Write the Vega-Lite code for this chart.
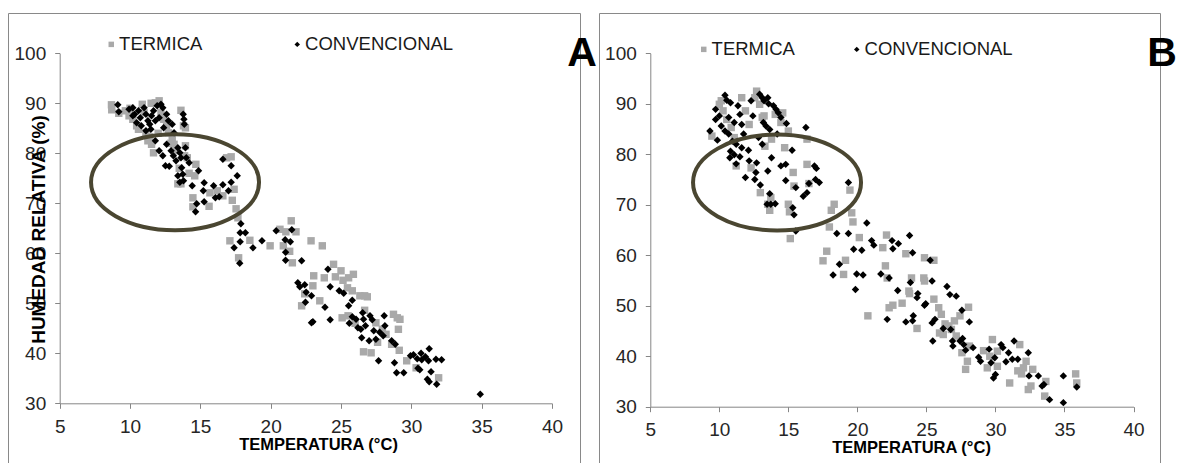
{
  "$schema": "https://vega.github.io/schema/vega-lite/v6.json",
  "padding": {"left": 7, "top": 12, "right": 0, "bottom": 0},
  "background": "white",
  "config": {
    "view": {"stroke": "#898989", "strokeWidth": 1},
    "axis": {"grid": false, "domainColor": "#868686", "tickColor": "#868686", "tickSize": 5, "labelFont": "Liberation Sans", "labelFontSize": 19, "labelColor": "#262626", "titleFont": "Liberation Sans", "titleFontWeight": "bold", "titleColor": "#000000", "labelOverlap": false, "labelFlush": false},
    "axisX": {"labelPadding": 9, "titleFontSize": 16.5, "titleBaseline": "middle", "titleAlign": "center"},
    "axisY": {"labelPadding": 9, "titleFontSize": 19, "titleAngle": -90, "titleBaseline": "middle", "titleAlign": "center"},
    "legend": {"labelFont": "Liberation Sans", "labelFontSize": 18.5, "labelColor": "#1a1a1a", "symbolSize": 30, "labelOffset": -1.4, "padding": 0, "rowPadding": 0, "symbolStrokeWidth": 0}
  },
  "datasets": {
    "pts": [
      {"panel":"A","serie":"TERMICA","temp":8.68,"hr":89.7},{"panel":"A","serie":"TERMICA","temp":8.7,"hr":88.7},{"panel":"A","serie":"TERMICA","temp":9.67,"hr":88.5},{"panel":"A","serie":"TERMICA","temp":9.93,"hr":87.5},{"panel":"A","serie":"TERMICA","temp":10.47,"hr":85.5},{"panel":"A","serie":"TERMICA","temp":10.87,"hr":89.8},{"panel":"A","serie":"TERMICA","temp":11.0,"hr":88.1},{"panel":"A","serie":"TERMICA","temp":11.13,"hr":84.1},{"panel":"A","serie":"TERMICA","temp":11.27,"hr":82.5},{"panel":"A","serie":"TERMICA","temp":11.53,"hr":81.8},{"panel":"A","serie":"TERMICA","temp":11.67,"hr":80.1},{"panel":"A","serie":"TERMICA","temp":11.8,"hr":90.1},{"panel":"A","serie":"TERMICA","temp":12.07,"hr":90.5},{"panel":"A","serie":"TERMICA","temp":12.2,"hr":88.1},{"panel":"A","serie":"TERMICA","temp":12.6,"hr":85.5},{"panel":"A","serie":"TERMICA","temp":12.73,"hr":84.1},{"panel":"A","serie":"TERMICA","temp":13.0,"hr":83.1},{"panel":"A","serie":"TERMICA","temp":13.13,"hr":81.8},{"panel":"A","serie":"TERMICA","temp":13.62,"hr":88.6},{"panel":"A","serie":"TERMICA","temp":13.8,"hr":85.5},{"panel":"A","serie":"TERMICA","temp":13.94,"hr":85.1},{"panel":"A","serie":"TERMICA","temp":13.94,"hr":81.5},{"panel":"A","serie":"TERMICA","temp":13.88,"hr":79.5},{"panel":"A","serie":"TERMICA","temp":14.07,"hr":79.1},{"panel":"A","serie":"TERMICA","temp":13.4,"hr":73.9},{"panel":"A","serie":"TERMICA","temp":13.62,"hr":73.9},{"panel":"A","serie":"TERMICA","temp":14.68,"hr":77.8},{"panel":"A","serie":"TERMICA","temp":14.6,"hr":75.5},{"panel":"A","serie":"TERMICA","temp":14.47,"hr":71.1},{"panel":"A","serie":"TERMICA","temp":14.47,"hr":69.3},{"panel":"A","serie":"TERMICA","temp":15.62,"hr":69.4},{"panel":"A","serie":"TERMICA","temp":15.68,"hr":72.1},{"panel":"A","serie":"TERMICA","temp":16.2,"hr":72.5},{"panel":"A","serie":"TERMICA","temp":16.6,"hr":71.5},{"panel":"A","serie":"TERMICA","temp":16.87,"hr":79.1},{"panel":"A","serie":"TERMICA","temp":17.19,"hr":79.3},{"panel":"A","serie":"TERMICA","temp":17.4,"hr":72.8},{"panel":"A","serie":"TERMICA","temp":17.27,"hr":70.6},{"panel":"A","serie":"TERMICA","temp":17.54,"hr":68.9},{"panel":"A","serie":"TERMICA","temp":17.67,"hr":67.1},{"panel":"A","serie":"TERMICA","temp":17.1,"hr":62.5},{"panel":"A","serie":"TERMICA","temp":17.72,"hr":59.1},{"panel":"A","serie":"TERMICA","temp":18.52,"hr":62.6},{"panel":"A","serie":"TERMICA","temp":19.96,"hr":61.5},{"panel":"A","serie":"TERMICA","temp":20.66,"hr":64.8},{"panel":"A","serie":"TERMICA","temp":21.08,"hr":64.3},{"panel":"A","serie":"TERMICA","temp":21.46,"hr":66.5},{"panel":"A","serie":"TERMICA","temp":21.8,"hr":64.3},{"panel":"A","serie":"TERMICA","temp":20.9,"hr":61.5},{"panel":"A","serie":"TERMICA","temp":21.35,"hr":60.4},{"panel":"A","serie":"TERMICA","temp":21.54,"hr":58.1},{"panel":"A","serie":"TERMICA","temp":22.87,"hr":62.5},{"panel":"A","serie":"TERMICA","temp":23.67,"hr":61.5},{"panel":"A","serie":"TERMICA","temp":22.2,"hr":49.5},{"panel":"A","serie":"TERMICA","temp":22.42,"hr":51.9},{"panel":"A","serie":"TERMICA","temp":23.0,"hr":53.5},{"panel":"A","serie":"TERMICA","temp":23.06,"hr":55.5},{"panel":"A","serie":"TERMICA","temp":23.49,"hr":50.5},{"panel":"A","serie":"TERMICA","temp":23.81,"hr":55.1},{"panel":"A","serie":"TERMICA","temp":24.47,"hr":57.8},{"panel":"A","serie":"TERMICA","temp":24.6,"hr":55.3},{"panel":"A","serie":"TERMICA","temp":25.0,"hr":56.5},{"panel":"A","serie":"TERMICA","temp":25.14,"hr":54.6},{"panel":"A","serie":"TERMICA","temp":25.08,"hr":47.1},{"panel":"A","serie":"TERMICA","temp":25.46,"hr":53.1},{"panel":"A","serie":"TERMICA","temp":25.54,"hr":55.1},{"panel":"A","serie":"TERMICA","temp":25.88,"hr":55.8},{"panel":"A","serie":"TERMICA","temp":25.8,"hr":52.5},{"panel":"A","serie":"TERMICA","temp":26.34,"hr":51.5},{"panel":"A","serie":"TERMICA","temp":26.68,"hr":51.5},{"panel":"A","serie":"TERMICA","temp":26.87,"hr":51.3},{"panel":"A","serie":"TERMICA","temp":26.68,"hr":48.6},{"panel":"A","serie":"TERMICA","temp":26.6,"hr":40.3},{"panel":"A","serie":"TERMICA","temp":27.14,"hr":40.1},{"panel":"A","serie":"TERMICA","temp":27.48,"hr":46.1},{"panel":"A","serie":"TERMICA","temp":27.94,"hr":44.8},{"panel":"A","serie":"TERMICA","temp":28.6,"hr":41.8},{"panel":"A","serie":"TERMICA","temp":28.73,"hr":47.8},{"panel":"A","serie":"TERMICA","temp":29.0,"hr":47.1},{"panel":"A","serie":"TERMICA","temp":29.19,"hr":46.8},{"panel":"A","serie":"TERMICA","temp":29.08,"hr":44.8},{"panel":"A","serie":"TERMICA","temp":29.14,"hr":40.6},{"panel":"A","serie":"TERMICA","temp":29.67,"hr":38.5},{"panel":"A","serie":"TERMICA","temp":30.34,"hr":37.1},{"panel":"A","serie":"TERMICA","temp":31.94,"hr":35.1},{"panel":"A","serie":"TERMICA","temp":28.2,"hr":43.8},{"panel":"A","serie":"TERMICA","temp":9.2,"hr":88.0},{"panel":"A","serie":"TERMICA","temp":10.2,"hr":86.8},{"panel":"A","serie":"TERMICA","temp":10.6,"hr":84.8},{"panel":"A","serie":"TERMICA","temp":11.4,"hr":83.3},{"panel":"A","serie":"TERMICA","temp":12.4,"hr":86.8},{"panel":"A","serie":"TERMICA","temp":12.9,"hr":82.0},{"panel":"A","serie":"TERMICA","temp":13.3,"hr":80.5},{"panel":"A","serie":"TERMICA","temp":10.0,"hr":89.0},{"panel":"A","serie":"TERMICA","temp":11.5,"hr":90.0},{"panel":"A","serie":"TERMICA","temp":12.0,"hr":84.0},{"panel":"A","serie":"TERMICA","temp":13.5,"hr":77.0},{"panel":"A","serie":"TERMICA","temp":14.2,"hr":76.0},{"panel":"A","serie":"TERMICA","temp":27.6,"hr":42.2},{"panel":"A","serie":"TERMICA","temp":26.0,"hr":46.0},{"panel":"A","serie":"TERMICA","temp":25.5,"hr":47.5},
      {"panel":"A","serie":"CONVENCIONAL","temp":9.13,"hr":89.7},{"panel":"A","serie":"CONVENCIONAL","temp":9.2,"hr":88.3},{"panel":"A","serie":"CONVENCIONAL","temp":9.93,"hr":88.8},{"panel":"A","serie":"CONVENCIONAL","temp":10.2,"hr":89.1},{"panel":"A","serie":"CONVENCIONAL","temp":10.33,"hr":87.8},{"panel":"A","serie":"CONVENCIONAL","temp":10.6,"hr":88.5},{"panel":"A","serie":"CONVENCIONAL","temp":10.73,"hr":87.1},{"panel":"A","serie":"CONVENCIONAL","temp":11.0,"hr":89.1},{"panel":"A","serie":"CONVENCIONAL","temp":11.13,"hr":87.8},{"panel":"A","serie":"CONVENCIONAL","temp":11.27,"hr":86.5},{"panel":"A","serie":"CONVENCIONAL","temp":11.4,"hr":85.8},{"panel":"A","serie":"CONVENCIONAL","temp":11.53,"hr":87.5},{"panel":"A","serie":"CONVENCIONAL","temp":11.67,"hr":88.5},{"panel":"A","serie":"CONVENCIONAL","temp":11.8,"hr":86.5},{"panel":"A","serie":"CONVENCIONAL","temp":11.93,"hr":89.5},{"panel":"A","serie":"CONVENCIONAL","temp":12.07,"hr":87.1},{"panel":"A","serie":"CONVENCIONAL","temp":12.2,"hr":89.8},{"panel":"A","serie":"CONVENCIONAL","temp":12.33,"hr":89.1},{"panel":"A","serie":"CONVENCIONAL","temp":12.39,"hr":85.1},{"panel":"A","serie":"CONVENCIONAL","temp":12.6,"hr":87.8},{"panel":"A","serie":"CONVENCIONAL","temp":12.73,"hr":86.5},{"panel":"A","serie":"CONVENCIONAL","temp":13.0,"hr":85.8},{"panel":"A","serie":"CONVENCIONAL","temp":13.13,"hr":84.1},{"panel":"A","serie":"CONVENCIONAL","temp":10.2,"hr":87.5},{"panel":"A","serie":"CONVENCIONAL","temp":10.47,"hr":86.1},{"panel":"A","serie":"CONVENCIONAL","temp":10.8,"hr":85.5},{"panel":"A","serie":"CONVENCIONAL","temp":11.13,"hr":84.5},{"panel":"A","serie":"CONVENCIONAL","temp":11.48,"hr":84.8},{"panel":"A","serie":"CONVENCIONAL","temp":11.8,"hr":82.5},{"panel":"A","serie":"CONVENCIONAL","temp":12.07,"hr":80.5},{"panel":"A","serie":"CONVENCIONAL","temp":12.33,"hr":79.5},{"panel":"A","serie":"CONVENCIONAL","temp":12.52,"hr":77.5},{"panel":"A","serie":"CONVENCIONAL","temp":12.79,"hr":77.4},{"panel":"A","serie":"CONVENCIONAL","temp":12.6,"hr":81.8},{"panel":"A","serie":"CONVENCIONAL","temp":12.92,"hr":80.5},{"panel":"A","serie":"CONVENCIONAL","temp":13.08,"hr":79.5},{"panel":"A","serie":"CONVENCIONAL","temp":13.27,"hr":78.5},{"panel":"A","serie":"CONVENCIONAL","temp":13.4,"hr":81.1},{"panel":"A","serie":"CONVENCIONAL","temp":13.54,"hr":80.1},{"panel":"A","serie":"CONVENCIONAL","temp":13.62,"hr":79.1},{"panel":"A","serie":"CONVENCIONAL","temp":13.67,"hr":77.1},{"panel":"A","serie":"CONVENCIONAL","temp":13.75,"hr":75.8},{"panel":"A","serie":"CONVENCIONAL","temp":13.8,"hr":74.5},{"panel":"A","serie":"CONVENCIONAL","temp":13.4,"hr":75.5},{"panel":"A","serie":"CONVENCIONAL","temp":13.54,"hr":74.2},{"panel":"A","serie":"CONVENCIONAL","temp":13.78,"hr":87.8},{"panel":"A","serie":"CONVENCIONAL","temp":13.83,"hr":86.8},{"panel":"A","serie":"CONVENCIONAL","temp":13.86,"hr":85.8},{"panel":"A","serie":"CONVENCIONAL","temp":13.94,"hr":81.1},{"panel":"A","serie":"CONVENCIONAL","temp":14.0,"hr":79.1},{"panel":"A","serie":"CONVENCIONAL","temp":14.2,"hr":78.1},{"panel":"A","serie":"CONVENCIONAL","temp":14.42,"hr":73.5},{"panel":"A","serie":"CONVENCIONAL","temp":14.87,"hr":76.5},{"panel":"A","serie":"CONVENCIONAL","temp":15.27,"hr":74.1},{"panel":"A","serie":"CONVENCIONAL","temp":15.21,"hr":72.5},{"panel":"A","serie":"CONVENCIONAL","temp":14.74,"hr":69.9},{"panel":"A","serie":"CONVENCIONAL","temp":14.66,"hr":68.3},{"panel":"A","serie":"CONVENCIONAL","temp":15.27,"hr":70.3},{"panel":"A","serie":"CONVENCIONAL","temp":15.94,"hr":73.5},{"panel":"A","serie":"CONVENCIONAL","temp":16.07,"hr":71.1},{"panel":"A","serie":"CONVENCIONAL","temp":16.34,"hr":71.3},{"panel":"A","serie":"CONVENCIONAL","temp":16.6,"hr":73.7},{"panel":"A","serie":"CONVENCIONAL","temp":17.0,"hr":72.5},{"panel":"A","serie":"CONVENCIONAL","temp":17.19,"hr":74.2},{"panel":"A","serie":"CONVENCIONAL","temp":17.62,"hr":75.5},{"panel":"A","serie":"CONVENCIONAL","temp":16.6,"hr":78.8},{"panel":"A","serie":"CONVENCIONAL","temp":17.19,"hr":77.5},{"panel":"A","serie":"CONVENCIONAL","temp":17.88,"hr":65.9},{"panel":"A","serie":"CONVENCIONAL","temp":17.83,"hr":64.1},{"panel":"A","serie":"CONVENCIONAL","temp":18.2,"hr":64.1},{"panel":"A","serie":"CONVENCIONAL","temp":17.83,"hr":62.3},{"panel":"A","serie":"CONVENCIONAL","temp":17.4,"hr":61.1},{"panel":"A","serie":"CONVENCIONAL","temp":18.74,"hr":61.1},{"panel":"A","serie":"CONVENCIONAL","temp":17.8,"hr":58.0},{"panel":"A","serie":"CONVENCIONAL","temp":19.38,"hr":62.5},{"panel":"A","serie":"CONVENCIONAL","temp":20.39,"hr":64.5},{"panel":"A","serie":"CONVENCIONAL","temp":21.03,"hr":62.7},{"panel":"A","serie":"CONVENCIONAL","temp":21.4,"hr":62.3},{"panel":"A","serie":"CONVENCIONAL","temp":21.5,"hr":64.7},{"panel":"A","serie":"CONVENCIONAL","temp":21.06,"hr":60.2},{"panel":"A","serie":"CONVENCIONAL","temp":21.06,"hr":58.6},{"panel":"A","serie":"CONVENCIONAL","temp":22.2,"hr":58.5},{"panel":"A","serie":"CONVENCIONAL","temp":21.93,"hr":54.1},{"panel":"A","serie":"CONVENCIONAL","temp":22.07,"hr":53.3},{"panel":"A","serie":"CONVENCIONAL","temp":22.42,"hr":53.7},{"panel":"A","serie":"CONVENCIONAL","temp":22.52,"hr":52.2},{"panel":"A","serie":"CONVENCIONAL","temp":22.47,"hr":50.2},{"panel":"A","serie":"CONVENCIONAL","temp":22.9,"hr":51.5},{"panel":"A","serie":"CONVENCIONAL","temp":22.9,"hr":46.1},{"panel":"A","serie":"CONVENCIONAL","temp":23.0,"hr":46.3},{"panel":"A","serie":"CONVENCIONAL","temp":23.86,"hr":49.2},{"panel":"A","serie":"CONVENCIONAL","temp":24.07,"hr":56.8},{"panel":"A","serie":"CONVENCIONAL","temp":24.23,"hr":53.3},{"panel":"A","serie":"CONVENCIONAL","temp":24.23,"hr":46.7},{"panel":"A","serie":"CONVENCIONAL","temp":24.87,"hr":52.5},{"panel":"A","serie":"CONVENCIONAL","temp":25.19,"hr":52.0},{"panel":"A","serie":"CONVENCIONAL","temp":25.54,"hr":49.5},{"panel":"A","serie":"CONVENCIONAL","temp":25.8,"hr":50.6},{"panel":"A","serie":"CONVENCIONAL","temp":25.59,"hr":46.0},{"panel":"A","serie":"CONVENCIONAL","temp":25.8,"hr":47.3},{"panel":"A","serie":"CONVENCIONAL","temp":26.07,"hr":46.8},{"panel":"A","serie":"CONVENCIONAL","temp":26.2,"hr":45.1},{"panel":"A","serie":"CONVENCIONAL","temp":26.41,"hr":44.8},{"panel":"A","serie":"CONVENCIONAL","temp":26.54,"hr":48.1},{"panel":"A","serie":"CONVENCIONAL","temp":26.47,"hr":43.1},{"panel":"A","serie":"CONVENCIONAL","temp":26.6,"hr":46.8},{"panel":"A","serie":"CONVENCIONAL","temp":26.74,"hr":45.5},{"panel":"A","serie":"CONVENCIONAL","temp":27.06,"hr":47.5},{"panel":"A","serie":"CONVENCIONAL","temp":27.22,"hr":46.7},{"panel":"A","serie":"CONVENCIONAL","temp":27.0,"hr":42.5},{"panel":"A","serie":"CONVENCIONAL","temp":27.33,"hr":44.5},{"panel":"A","serie":"CONVENCIONAL","temp":27.48,"hr":42.8},{"panel":"A","serie":"CONVENCIONAL","temp":27.67,"hr":38.5},{"panel":"A","serie":"CONVENCIONAL","temp":27.75,"hr":44.2},{"panel":"A","serie":"CONVENCIONAL","temp":28.0,"hr":43.5},{"panel":"A","serie":"CONVENCIONAL","temp":28.07,"hr":47.5},{"panel":"A","serie":"CONVENCIONAL","temp":28.12,"hr":45.5},{"panel":"A","serie":"CONVENCIONAL","temp":28.6,"hr":42.5},{"panel":"A","serie":"CONVENCIONAL","temp":28.86,"hr":41.8},{"panel":"A","serie":"CONVENCIONAL","temp":28.8,"hr":38.1},{"panel":"A","serie":"CONVENCIONAL","temp":28.95,"hr":36.1},{"panel":"A","serie":"CONVENCIONAL","temp":29.46,"hr":36.1},{"panel":"A","serie":"CONVENCIONAL","temp":29.94,"hr":39.5},{"panel":"A","serie":"CONVENCIONAL","temp":30.15,"hr":39.7},{"panel":"A","serie":"CONVENCIONAL","temp":30.42,"hr":38.9},{"panel":"A","serie":"CONVENCIONAL","temp":30.47,"hr":37.0},{"panel":"A","serie":"CONVENCIONAL","temp":30.6,"hr":36.7},{"panel":"A","serie":"CONVENCIONAL","temp":30.69,"hr":40.0},{"panel":"A","serie":"CONVENCIONAL","temp":30.74,"hr":38.7},{"panel":"A","serie":"CONVENCIONAL","temp":31.0,"hr":39.3},{"panel":"A","serie":"CONVENCIONAL","temp":31.22,"hr":38.5},{"panel":"A","serie":"CONVENCIONAL","temp":31.27,"hr":40.9},{"panel":"A","serie":"CONVENCIONAL","temp":31.14,"hr":34.8},{"panel":"A","serie":"CONVENCIONAL","temp":31.27,"hr":34.3},{"panel":"A","serie":"CONVENCIONAL","temp":31.4,"hr":36.3},{"panel":"A","serie":"CONVENCIONAL","temp":31.8,"hr":33.8},{"panel":"A","serie":"CONVENCIONAL","temp":31.75,"hr":38.8},{"panel":"A","serie":"CONVENCIONAL","temp":32.15,"hr":38.7},{"panel":"A","serie":"CONVENCIONAL","temp":34.9,"hr":31.8},
      {"panel":"B","serie":"TERMICA","temp":9.46,"hr":83.6},{"panel":"B","serie":"TERMICA","temp":10.0,"hr":89.9},{"panel":"B","serie":"TERMICA","temp":10.14,"hr":90.6},{"panel":"B","serie":"TERMICA","temp":10.27,"hr":88.6},{"panel":"B","serie":"TERMICA","temp":10.54,"hr":86.9},{"panel":"B","serie":"TERMICA","temp":10.86,"hr":85.3},{"panel":"B","serie":"TERMICA","temp":11.08,"hr":83.3},{"panel":"B","serie":"TERMICA","temp":11.22,"hr":77.7},{"panel":"B","serie":"TERMICA","temp":11.62,"hr":91.2},{"panel":"B","serie":"TERMICA","temp":11.89,"hr":88.6},{"panel":"B","serie":"TERMICA","temp":12.16,"hr":85.9},{"panel":"B","serie":"TERMICA","temp":12.3,"hr":77.3},{"panel":"B","serie":"TERMICA","temp":12.57,"hr":91.2},{"panel":"B","serie":"TERMICA","temp":12.7,"hr":92.5},{"panel":"B","serie":"TERMICA","temp":12.92,"hr":89.9},{"panel":"B","serie":"TERMICA","temp":13.11,"hr":87.3},{"panel":"B","serie":"TERMICA","temp":13.24,"hr":87.6},{"panel":"B","serie":"TERMICA","temp":12.97,"hr":72.4},{"panel":"B","serie":"TERMICA","temp":13.3,"hr":81.6},{"panel":"B","serie":"TERMICA","temp":13.51,"hr":70.1},{"panel":"B","serie":"TERMICA","temp":13.65,"hr":68.9},{"panel":"B","serie":"TERMICA","temp":13.73,"hr":71.4},{"panel":"B","serie":"TERMICA","temp":13.78,"hr":83.0},{"panel":"B","serie":"TERMICA","temp":14.05,"hr":87.9},{"panel":"B","serie":"TERMICA","temp":14.46,"hr":86.3},{"panel":"B","serie":"TERMICA","temp":14.59,"hr":88.2},{"panel":"B","serie":"TERMICA","temp":14.73,"hr":81.3},{"panel":"B","serie":"TERMICA","temp":15.0,"hr":84.6},{"panel":"B","serie":"TERMICA","temp":15.0,"hr":70.1},{"panel":"B","serie":"TERMICA","temp":15.08,"hr":68.6},{"panel":"B","serie":"TERMICA","temp":15.14,"hr":63.3},{"panel":"B","serie":"TERMICA","temp":15.35,"hr":76.4},{"panel":"B","serie":"TERMICA","temp":15.41,"hr":73.7},{"panel":"B","serie":"TERMICA","temp":16.35,"hr":78.0},{"panel":"B","serie":"TERMICA","temp":16.49,"hr":74.2},{"panel":"B","serie":"TERMICA","temp":16.35,"hr":83.0},{"panel":"B","serie":"TERMICA","temp":17.51,"hr":58.9},{"panel":"B","serie":"TERMICA","temp":17.78,"hr":60.8},{"panel":"B","serie":"TERMICA","temp":17.97,"hr":65.6},{"panel":"B","serie":"TERMICA","temp":18.11,"hr":68.9},{"panel":"B","serie":"TERMICA","temp":18.32,"hr":70.1},{"panel":"B","serie":"TERMICA","temp":19.0,"hr":56.2},{"panel":"B","serie":"TERMICA","temp":19.14,"hr":59.0},{"panel":"B","serie":"TERMICA","temp":19.59,"hr":68.4},{"panel":"B","serie":"TERMICA","temp":19.68,"hr":66.6},{"panel":"B","serie":"TERMICA","temp":19.46,"hr":72.9},{"panel":"B","serie":"TERMICA","temp":20.14,"hr":63.5},{"panel":"B","serie":"TERMICA","temp":20.76,"hr":48.0},{"panel":"B","serie":"TERMICA","temp":21.84,"hr":61.5},{"panel":"B","serie":"TERMICA","temp":22.03,"hr":57.9},{"panel":"B","serie":"TERMICA","temp":22.16,"hr":55.5},{"panel":"B","serie":"TERMICA","temp":22.11,"hr":64.0},{"panel":"B","serie":"TERMICA","temp":22.3,"hr":49.6},{"panel":"B","serie":"TERMICA","temp":22.57,"hr":50.1},{"panel":"B","serie":"TERMICA","temp":23.24,"hr":50.5},{"panel":"B","serie":"TERMICA","temp":23.51,"hr":60.3},{"panel":"B","serie":"TERMICA","temp":23.73,"hr":52.9},{"panel":"B","serie":"TERMICA","temp":23.78,"hr":52.4},{"panel":"B","serie":"TERMICA","temp":23.92,"hr":55.5},{"panel":"B","serie":"TERMICA","temp":24.32,"hr":45.5},{"panel":"B","serie":"TERMICA","temp":24.86,"hr":59.5},{"panel":"B","serie":"TERMICA","temp":24.81,"hr":55.5},{"panel":"B","serie":"TERMICA","temp":24.86,"hr":54.9},{"panel":"B","serie":"TERMICA","temp":25.54,"hr":59.0},{"panel":"B","serie":"TERMICA","temp":25.54,"hr":51.3},{"panel":"B","serie":"TERMICA","temp":25.89,"hr":49.6},{"panel":"B","serie":"TERMICA","temp":26.08,"hr":48.3},{"panel":"B","serie":"TERMICA","temp":25.95,"hr":44.6},{"panel":"B","serie":"TERMICA","temp":26.22,"hr":44.3},{"panel":"B","serie":"TERMICA","temp":26.35,"hr":46.4},{"panel":"B","serie":"TERMICA","temp":26.62,"hr":46.0},{"panel":"B","serie":"TERMICA","temp":26.81,"hr":45.3},{"panel":"B","serie":"TERMICA","temp":27.03,"hr":47.0},{"panel":"B","serie":"TERMICA","temp":27.16,"hr":44.0},{"panel":"B","serie":"TERMICA","temp":27.43,"hr":48.0},{"panel":"B","serie":"TERMICA","temp":27.57,"hr":40.7},{"panel":"B","serie":"TERMICA","temp":27.84,"hr":37.4},{"panel":"B","serie":"TERMICA","temp":27.97,"hr":39.0},{"panel":"B","serie":"TERMICA","temp":28.05,"hr":49.7},{"panel":"B","serie":"TERMICA","temp":28.11,"hr":42.0},{"panel":"B","serie":"TERMICA","temp":29.14,"hr":41.1},{"panel":"B","serie":"TERMICA","temp":29.41,"hr":37.7},{"panel":"B","serie":"TERMICA","temp":29.59,"hr":40.0},{"panel":"B","serie":"TERMICA","temp":29.78,"hr":43.3},{"panel":"B","serie":"TERMICA","temp":30.14,"hr":38.0},{"panel":"B","serie":"TERMICA","temp":30.14,"hr":41.0},{"panel":"B","serie":"TERMICA","temp":31.03,"hr":34.7},{"panel":"B","serie":"TERMICA","temp":31.76,"hr":42.3},{"panel":"B","serie":"TERMICA","temp":31.62,"hr":37.1},{"panel":"B","serie":"TERMICA","temp":31.89,"hr":36.5},{"panel":"B","serie":"TERMICA","temp":32.03,"hr":37.7},{"panel":"B","serie":"TERMICA","temp":32.22,"hr":39.0},{"panel":"B","serie":"TERMICA","temp":32.38,"hr":33.4},{"panel":"B","serie":"TERMICA","temp":32.57,"hr":34.1},{"panel":"B","serie":"TERMICA","temp":32.7,"hr":37.4},{"panel":"B","serie":"TERMICA","temp":33.57,"hr":32.1},{"panel":"B","serie":"TERMICA","temp":33.65,"hr":35.0},{"panel":"B","serie":"TERMICA","temp":35.81,"hr":36.5},{"panel":"B","serie":"TERMICA","temp":35.89,"hr":34.7},
      {"panel":"B","serie":"CONVENCIONAL","temp":9.32,"hr":84.6},{"panel":"B","serie":"CONVENCIONAL","temp":9.86,"hr":82.8},{"panel":"B","serie":"CONVENCIONAL","temp":9.73,"hr":88.9},{"panel":"B","serie":"CONVENCIONAL","temp":10.41,"hr":91.7},{"panel":"B","serie":"CONVENCIONAL","temp":10.54,"hr":90.7},{"panel":"B","serie":"CONVENCIONAL","temp":10.81,"hr":90.2},{"panel":"B","serie":"CONVENCIONAL","temp":10.0,"hr":87.6},{"panel":"B","serie":"CONVENCIONAL","temp":9.73,"hr":86.9},{"panel":"B","serie":"CONVENCIONAL","temp":10.14,"hr":85.6},{"panel":"B","serie":"CONVENCIONAL","temp":10.41,"hr":84.6},{"panel":"B","serie":"CONVENCIONAL","temp":10.68,"hr":84.0},{"panel":"B","serie":"CONVENCIONAL","temp":10.68,"hr":87.3},{"panel":"B","serie":"CONVENCIONAL","temp":11.08,"hr":86.3},{"panel":"B","serie":"CONVENCIONAL","temp":10.95,"hr":82.6},{"panel":"B","serie":"CONVENCIONAL","temp":11.22,"hr":82.0},{"panel":"B","serie":"CONVENCIONAL","temp":11.35,"hr":89.6},{"panel":"B","serie":"CONVENCIONAL","temp":11.49,"hr":87.9},{"panel":"B","serie":"CONVENCIONAL","temp":11.62,"hr":85.9},{"panel":"B","serie":"CONVENCIONAL","temp":11.76,"hr":84.0},{"panel":"B","serie":"CONVENCIONAL","temp":10.81,"hr":80.6},{"panel":"B","serie":"CONVENCIONAL","temp":10.76,"hr":79.3},{"panel":"B","serie":"CONVENCIONAL","temp":11.08,"hr":79.9},{"panel":"B","serie":"CONVENCIONAL","temp":11.22,"hr":78.1},{"panel":"B","serie":"CONVENCIONAL","temp":11.49,"hr":79.5},{"panel":"B","serie":"CONVENCIONAL","temp":11.62,"hr":81.3},{"panel":"B","serie":"CONVENCIONAL","temp":11.89,"hr":75.4},{"panel":"B","serie":"CONVENCIONAL","temp":12.11,"hr":80.8},{"panel":"B","serie":"CONVENCIONAL","temp":12.16,"hr":78.7},{"panel":"B","serie":"CONVENCIONAL","temp":12.3,"hr":90.6},{"panel":"B","serie":"CONVENCIONAL","temp":12.43,"hr":87.6},{"panel":"B","serie":"CONVENCIONAL","temp":12.57,"hr":75.0},{"panel":"B","serie":"CONVENCIONAL","temp":12.65,"hr":76.4},{"panel":"B","serie":"CONVENCIONAL","temp":12.7,"hr":78.3},{"panel":"B","serie":"CONVENCIONAL","temp":12.84,"hr":83.3},{"panel":"B","serie":"CONVENCIONAL","temp":12.92,"hr":91.9},{"panel":"B","serie":"CONVENCIONAL","temp":13.11,"hr":91.2},{"panel":"B","serie":"CONVENCIONAL","temp":13.24,"hr":90.6},{"panel":"B","serie":"CONVENCIONAL","temp":12.97,"hr":73.9},{"panel":"B","serie":"CONVENCIONAL","temp":13.11,"hr":82.0},{"panel":"B","serie":"CONVENCIONAL","temp":13.19,"hr":86.3},{"panel":"B","serie":"CONVENCIONAL","temp":13.38,"hr":85.6},{"panel":"B","serie":"CONVENCIONAL","temp":13.51,"hr":91.2},{"panel":"B","serie":"CONVENCIONAL","temp":13.65,"hr":84.9},{"panel":"B","serie":"CONVENCIONAL","temp":13.57,"hr":90.0},{"panel":"B","serie":"CONVENCIONAL","temp":13.51,"hr":76.7},{"panel":"B","serie":"CONVENCIONAL","temp":13.65,"hr":72.2},{"panel":"B","serie":"CONVENCIONAL","temp":13.78,"hr":79.3},{"panel":"B","serie":"CONVENCIONAL","temp":13.46,"hr":70.1},{"panel":"B","serie":"CONVENCIONAL","temp":13.73,"hr":70.1},{"panel":"B","serie":"CONVENCIONAL","temp":14.05,"hr":70.2},{"panel":"B","serie":"CONVENCIONAL","temp":13.92,"hr":89.6},{"panel":"B","serie":"CONVENCIONAL","temp":14.11,"hr":88.9},{"panel":"B","serie":"CONVENCIONAL","temp":14.27,"hr":88.2},{"panel":"B","serie":"CONVENCIONAL","temp":14.46,"hr":87.3},{"panel":"B","serie":"CONVENCIONAL","temp":14.19,"hr":84.0},{"panel":"B","serie":"CONVENCIONAL","temp":14.46,"hr":77.7},{"panel":"B","serie":"CONVENCIONAL","temp":14.81,"hr":78.0},{"panel":"B","serie":"CONVENCIONAL","temp":14.86,"hr":86.1},{"panel":"B","serie":"CONVENCIONAL","temp":14.81,"hr":74.8},{"panel":"B","serie":"CONVENCIONAL","temp":15.27,"hr":80.8},{"panel":"B","serie":"CONVENCIONAL","temp":15.32,"hr":69.4},{"panel":"B","serie":"CONVENCIONAL","temp":15.41,"hr":68.0},{"panel":"B","serie":"CONVENCIONAL","temp":15.54,"hr":73.4},{"panel":"B","serie":"CONVENCIONAL","temp":15.54,"hr":64.8},{"panel":"B","serie":"CONVENCIONAL","temp":16.08,"hr":71.7},{"panel":"B","serie":"CONVENCIONAL","temp":16.35,"hr":72.4},{"panel":"B","serie":"CONVENCIONAL","temp":16.49,"hr":74.2},{"panel":"B","serie":"CONVENCIONAL","temp":16.27,"hr":85.3},{"panel":"B","serie":"CONVENCIONAL","temp":16.89,"hr":77.7},{"panel":"B","serie":"CONVENCIONAL","temp":17.03,"hr":77.2},{"panel":"B","serie":"CONVENCIONAL","temp":16.97,"hr":75.0},{"panel":"B","serie":"CONVENCIONAL","temp":17.24,"hr":74.4},{"panel":"B","serie":"CONVENCIONAL","temp":19.35,"hr":74.4},{"panel":"B","serie":"CONVENCIONAL","temp":18.51,"hr":64.3},{"panel":"B","serie":"CONVENCIONAL","temp":19.35,"hr":64.3},{"panel":"B","serie":"CONVENCIONAL","temp":18.24,"hr":56.1},{"panel":"B","serie":"CONVENCIONAL","temp":18.7,"hr":58.2},{"panel":"B","serie":"CONVENCIONAL","temp":19.73,"hr":61.2},{"panel":"B","serie":"CONVENCIONAL","temp":19.86,"hr":53.2},{"panel":"B","serie":"CONVENCIONAL","temp":19.95,"hr":56.3},{"panel":"B","serie":"CONVENCIONAL","temp":20.32,"hr":61.0},{"panel":"B","serie":"CONVENCIONAL","temp":20.41,"hr":56.1},{"panel":"B","serie":"CONVENCIONAL","temp":20.68,"hr":66.4},{"panel":"B","serie":"CONVENCIONAL","temp":21.03,"hr":62.9},{"panel":"B","serie":"CONVENCIONAL","temp":21.19,"hr":62.0},{"panel":"B","serie":"CONVENCIONAL","temp":21.7,"hr":56.3},{"panel":"B","serie":"CONVENCIONAL","temp":22.16,"hr":47.3},{"panel":"B","serie":"CONVENCIONAL","temp":22.3,"hr":55.5},{"panel":"B","serie":"CONVENCIONAL","temp":22.51,"hr":62.9},{"panel":"B","serie":"CONVENCIONAL","temp":22.57,"hr":61.3},{"panel":"B","serie":"CONVENCIONAL","temp":22.97,"hr":62.3},{"panel":"B","serie":"CONVENCIONAL","temp":22.92,"hr":53.0},{"panel":"B","serie":"CONVENCIONAL","temp":23.51,"hr":46.8},{"panel":"B","serie":"CONVENCIONAL","temp":23.78,"hr":63.9},{"panel":"B","serie":"CONVENCIONAL","temp":23.84,"hr":54.6},{"panel":"B","serie":"CONVENCIONAL","temp":24.0,"hr":60.5},{"panel":"B","serie":"CONVENCIONAL","temp":24.05,"hr":48.0},{"panel":"B","serie":"CONVENCIONAL","temp":24.0,"hr":47.0},{"panel":"B","serie":"CONVENCIONAL","temp":24.32,"hr":51.6},{"panel":"B","serie":"CONVENCIONAL","temp":24.38,"hr":52.4},{"panel":"B","serie":"CONVENCIONAL","temp":24.86,"hr":50.1},{"panel":"B","serie":"CONVENCIONAL","temp":24.95,"hr":50.4},{"panel":"B","serie":"CONVENCIONAL","temp":25.27,"hr":59.0},{"panel":"B","serie":"CONVENCIONAL","temp":25.41,"hr":54.9},{"panel":"B","serie":"CONVENCIONAL","temp":25.41,"hr":46.6},{"panel":"B","serie":"CONVENCIONAL","temp":25.46,"hr":43.0},{"panel":"B","serie":"CONVENCIONAL","temp":25.62,"hr":47.3},{"panel":"B","serie":"CONVENCIONAL","temp":26.22,"hr":45.5},{"panel":"B","serie":"CONVENCIONAL","temp":26.49,"hr":53.8},{"panel":"B","serie":"CONVENCIONAL","temp":26.7,"hr":52.2},{"panel":"B","serie":"CONVENCIONAL","temp":26.76,"hr":45.3},{"panel":"B","serie":"CONVENCIONAL","temp":26.89,"hr":43.0},{"panel":"B","serie":"CONVENCIONAL","temp":26.92,"hr":42.0},{"panel":"B","serie":"CONVENCIONAL","temp":27.16,"hr":51.9},{"panel":"B","serie":"CONVENCIONAL","temp":27.43,"hr":43.0},{"panel":"B","serie":"CONVENCIONAL","temp":27.57,"hr":49.1},{"panel":"B","serie":"CONVENCIONAL","temp":27.62,"hr":43.5},{"panel":"B","serie":"CONVENCIONAL","temp":27.7,"hr":42.3},{"panel":"B","serie":"CONVENCIONAL","temp":27.84,"hr":41.2},{"panel":"B","serie":"CONVENCIONAL","temp":28.11,"hr":46.8},{"panel":"B","serie":"CONVENCIONAL","temp":28.38,"hr":41.7},{"panel":"B","serie":"CONVENCIONAL","temp":28.78,"hr":39.8},{"panel":"B","serie":"CONVENCIONAL","temp":28.92,"hr":39.0},{"panel":"B","serie":"CONVENCIONAL","temp":29.54,"hr":41.4},{"panel":"B","serie":"CONVENCIONAL","temp":29.68,"hr":38.7},{"panel":"B","serie":"CONVENCIONAL","temp":29.86,"hr":35.7},{"panel":"B","serie":"CONVENCIONAL","temp":29.95,"hr":39.7},{"panel":"B","serie":"CONVENCIONAL","temp":30.0,"hr":36.4},{"panel":"B","serie":"CONVENCIONAL","temp":30.41,"hr":42.3},{"panel":"B","serie":"CONVENCIONAL","temp":30.54,"hr":41.7},{"panel":"B","serie":"CONVENCIONAL","temp":30.76,"hr":38.9},{"panel":"B","serie":"CONVENCIONAL","temp":30.95,"hr":40.7},{"panel":"B","serie":"CONVENCIONAL","temp":31.22,"hr":39.4},{"panel":"B","serie":"CONVENCIONAL","temp":31.35,"hr":43.0},{"panel":"B","serie":"CONVENCIONAL","temp":31.62,"hr":39.4},{"panel":"B","serie":"CONVENCIONAL","temp":32.38,"hr":40.7},{"panel":"B","serie":"CONVENCIONAL","temp":32.43,"hr":36.1},{"panel":"B","serie":"CONVENCIONAL","temp":33.11,"hr":36.1},{"panel":"B","serie":"CONVENCIONAL","temp":33.38,"hr":34.1},{"panel":"B","serie":"CONVENCIONAL","temp":33.51,"hr":34.4},{"panel":"B","serie":"CONVENCIONAL","temp":33.92,"hr":31.4},{"panel":"B","serie":"CONVENCIONAL","temp":34.92,"hr":36.1},{"panel":"B","serie":"CONVENCIONAL","temp":34.92,"hr":30.8},{"panel":"B","serie":"CONVENCIONAL","temp":35.89,"hr":33.9}
    ],
    "eli": [
      {"panel":"A","temp":13.2,"hr":74.2},
      {"panel":"B","temp":14.18,"hr":74.4}
    ],
    "rotulos": [
      {"panel":"A","etiqueta":"A","temp":42.13,"hr":97.46},
      {"panel":"B","etiqueta":"B","temp":42.06,"hr":97.48}
    ]
  },
  "hconcat": [
    {
      "width": 572,
      "height": 455,
      "encoding": {
        "x": {"field": "temp", "type": "quantitative", "scale": {"domain": [5, 40], "range": [51.7, 544], "nice": false, "zero": false}, "axis": {"values": [5, 10, 15, 20, 25, 30, 35, 40], "offset": -64.7, "title": "TEMPERATURA (°C)", "titleX": 310, "titleY": 41.5}},
        "y": {"field": "hr", "type": "quantitative", "scale": {"domain": [30, 100], "range": [390.3, 40.3], "nice": false, "zero": false}, "axis": {"values": [30, 40, 50, 60, 70, 80, 90, 100], "offset": -51.7, "title": "HUMEDAD RELATIVA (%)", "titleX": -21, "titleY": 216}}
      },
      "layer": [
        {
          "data": {"name": "pts"},
          "transform": [{"filter": "datum.panel === 'A'"}],
          "mark": {"type": "point", "filled": true, "size": 55, "opacity": 1, "strokeWidth": 0},
          "encoding": {
            "color": {"field": "serie", "type": "nominal", "sort": null, "scale": {"domain": ["TERMICA", "CONVENCIONAL"], "range": ["#a9a9a9", "#000000"]}, "legend": {"title": null, "orient": "none", "legendX": 94, "legendY": 22, "direction": "horizontal", "columnPadding": 85}},
            "shape": {"field": "serie", "type": "nominal", "sort": null, "scale": {"domain": ["TERMICA", "CONVENCIONAL"], "range": ["square", "diamond"]}, "legend": {"title": null, "orient": "none", "legendX": 94, "legendY": 22, "direction": "horizontal", "columnPadding": 85}}
          }
        },
        {
          "data": {"name": "eli"},
          "transform": [{"filter": "datum.panel === 'A'"}],
          "mark": {"type": "point", "shape": "M -1 0 A 1 0.571 0 1 1 1 0 A 1 0.571 0 1 1 -1 0 Z", "size": 28224, "filled": false, "color": "#4a4631", "stroke": "#4a4631", "strokeWidth": 4, "opacity": 1}
        },
        {
          "data": {"name": "rotulos"},
          "transform": [{"filter": "datum.panel === 'A'"}],
          "mark": {"type": "text", "font": "Liberation Sans", "fontWeight": "bold", "fontSize": 41, "color": "#000000", "align": "center", "baseline": "alphabetic", "clip": false},
          "encoding": {"text": {"field": "etiqueta", "type": "nominal"}}
        }
      ]
    },
    {
      "width": 561,
      "height": 455,
      "encoding": {
        "x": {"field": "temp", "type": "quantitative", "scale": {"domain": [5, 40], "range": [51.3, 534.5], "nice": false, "zero": false}, "axis": {"values": [5, 10, 15, 20, 25, 30, 35, 40], "offset": -61.3, "title": "TEMPERATURA (°C)", "titleX": 312, "titleY": 41}},
        "y": {"field": "hr", "type": "quantitative", "scale": {"domain": [30, 100], "range": [393.7, 40.3], "nice": false, "zero": false}, "axis": {"values": [30, 40, 50, 60, 70, 80, 90, 100], "offset": -51.3, "title": null}}
      },
      "layer": [
        {
          "data": {"name": "pts"},
          "transform": [{"filter": "datum.panel === 'B'"}],
          "mark": {"type": "point", "filled": true, "size": 55, "opacity": 1, "strokeWidth": 0},
          "encoding": {
            "color": {"field": "serie", "type": "nominal", "sort": null, "scale": {"domain": ["TERMICA", "CONVENCIONAL"], "range": ["#a9a9a9", "#000000"]}, "legend": {"title": null, "orient": "none", "legendX": 95.5, "legendY": 27, "direction": "horizontal", "columnPadding": 52}},
            "shape": {"field": "serie", "type": "nominal", "sort": null, "scale": {"domain": ["TERMICA", "CONVENCIONAL"], "range": ["square", "diamond"]}, "legend": {"title": null, "orient": "none", "legendX": 95.5, "legendY": 27, "direction": "horizontal", "columnPadding": 52}}
          }
        },
        {
          "data": {"name": "eli"},
          "transform": [{"filter": "datum.panel === 'B'"}],
          "mark": {"type": "point", "shape": "M -1 0 A 1 0.571 0 1 1 1 0 A 1 0.571 0 1 1 -1 0 Z", "size": 28224, "filled": false, "color": "#4a4631", "stroke": "#4a4631", "strokeWidth": 4, "opacity": 1}
        },
        {
          "data": {"name": "rotulos"},
          "transform": [{"filter": "datum.panel === 'B'"}],
          "mark": {"type": "text", "font": "Liberation Sans", "fontWeight": "bold", "fontSize": 41, "color": "#000000", "align": "center", "baseline": "alphabetic", "clip": false},
          "encoding": {"text": {"field": "etiqueta", "type": "nominal"}}
        }
      ]
    }
  ],
  "spacing": 19,
  "bounds": "flush",
  "resolve": {"scale": {"color": "independent", "shape": "independent", "x": "independent", "y": "independent"}, "legend": {"color": "independent", "shape": "independent"}}
}
